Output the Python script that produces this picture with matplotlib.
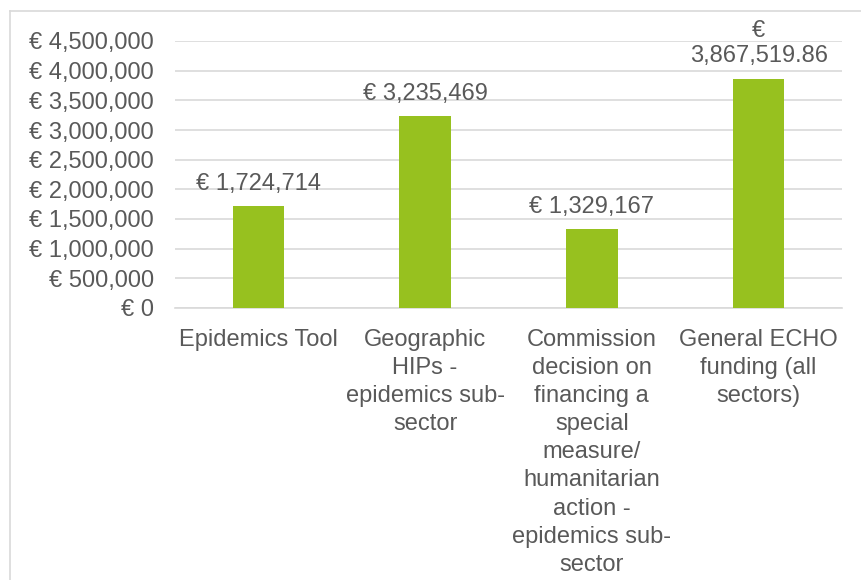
import matplotlib.pyplot as plt
from matplotlib.lines import Line2D
from matplotlib.ticker import FuncFormatter, MultipleLocator

categories = ['Epidemics Tool',
              'Geographic\nHIPs -\nepidemics sub-\nsector',
              'Commission\ndecision on\nfinancing a\nspecial\nmeasure/\nhumanitarian\naction -\nepidemics sub-\nsector',
              'General ECHO\nfunding (all\nsectors)']
values = [1724714, 3235469, 1329167, 3867519.86]
bar_labels = ['€ 1,724,714', '€ 3,235,469', '€ 1,329,167', '€\n3,867,519.86']

plt.rcParams['font.family'] = ['Liberation Sans', 'DejaVu Sans']
grey = '#595959'

fig = plt.figure(figsize=(8.62, 5.8), dpi=100)
ax = fig.add_axes([175/862, 1-308/580, 667/862, 267/580])

x = range(len(values))
bars = ax.bar(x, values, width=0.31, color='#97C11F', zorder=3)
for b, lab in zip(bars, bar_labels):
    ax.annotate(lab, (b.get_x()+b.get_width()/2, b.get_height()),
                xytext=(0, 8), textcoords='offset points',
                ha='center', va='bottom', fontsize=17, color=grey,
                linespacing=1.2)

ax.set_xlim(-0.5, 3.5)
ax.set_ylim(0, 4500000)
ax.yaxis.set_major_locator(MultipleLocator(500000))
ax.yaxis.set_major_formatter(FuncFormatter(lambda v, p: '€ {:,.0f}'.format(v)))
ax.set_xticks(list(x))
ax.set_xticklabels(categories, multialignment='center', linespacing=1.36)
ax.tick_params(axis='both', length=0, labelsize=17, colors=grey)
ax.tick_params(axis='y', pad=15)
ax.tick_params(axis='x', pad=15)
ax.grid(axis='y', color='#d9d9d9', lw=1.2, zorder=0)
for s in ['top', 'right', 'left']:
    ax.spines[s].set_visible(False)
ax.spines['bottom'].set_color('#d9d9d9')
ax.spines['bottom'].set_linewidth(1.2)

# chart frame (runs off the right and bottom edges)
fig.add_artist(Line2D([10/862, 10/862], [0, 1-11/580], transform=fig.transFigure, color='#d9d9d9', lw=1.2))
fig.add_artist(Line2D([10/862, 1], [1-11/580, 1-11/580], transform=fig.transFigure, color='#d9d9d9', lw=1.2))

fig.savefig('out.png', dpi=100)
